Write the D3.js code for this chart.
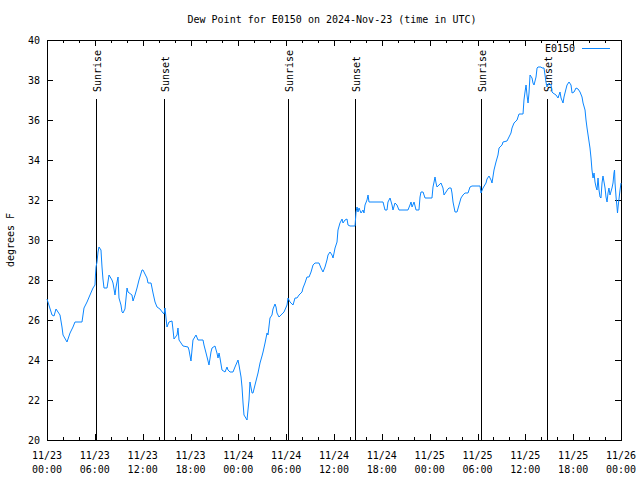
<!DOCTYPE html>
<html><head><meta charset="utf-8">
<script src="https://cdn.jsdelivr.net/npm/d3@7"></script>
<style>body{margin:0;background:#fff}svg{display:block}text{font-family:"DejaVu Sans Mono",monospace;font-size:10px;fill:#000}</style>
</head><body><div id="chart"></div>
<script>
const title = "Dew Point for E0150 on 2024-Nov-23 (time in UTC)";
const seriesName = "E0150";
const yLabel = "degrees F";
// hours since 2024-11-23 00:00 UTC
const hours = [0,0.63,0.88,1.13,1.63,1.88,2.01,2.51,2.89,3.26,3.51,4.39,4.64,5.02,5.39,5.77,6.02,6.08,6.15,6.27,6.40,6.52,6.77,6.90,7.02,7.15,7.53,7.78,8.15,8.28,8.53,8.66,8.91,9.03,9.28,9.41,9.53,9.78,10.04,10.16,10.66,10.79,11.04,11.29,11.54,11.92,12.04,12.29,12.54,12.67,13.05,13.30,13.55,13.80,14.17,14.55,14.68,14.80,14.93,15.05,15.30,15.68,15.81,15.93,16.31,16.43,16.56,16.81,17.06,17.69,17.81,18.06,18.19,18.31,18.69,18.94,19.57,19.69,19.95,20.20,20.32,20.57,20.70,21.07,21.32,21.45,21.58,21.70,21.95,22.33,22.58,22.70,22.96,23.33,23.58,23.96,24.08,24.34,24.46,24.59,24.71,25.09,25.21,25.34,25.46,25.72,25.84,26.09,26.34,26.47,26.72,26.97,27.10,27.35,27.60,27.72,27.97,28.22,28.35,28.60,28.73,28.85,29.10,29.48,29.73,30.11,30.23,30.48,30.86,31.11,31.36,31.61,31.99,32.11,32.36,32.61,32.87,33.12,33.37,33.62,34.12,34.37,34.62,34.87,35.12,35.25,35.50,35.75,35.88,36.13,36.38,36.50,36.75,37.01,37.13,37.38,37.63,37.76,38.01,38.64,38.76,38.89,39.01,39.14,39.39,39.64,39.76,39.89,40.14,40.27,40.39,42.15,42.40,42.65,42.77,43.03,43.28,43.40,43.65,43.90,44.15,45.28,45.53,45.66,45.79,46.04,46.29,46.66,46.79,46.91,47.17,47.42,48.29,48.42,48.55,48.67,48.80,48.92,49.17,49.42,49.67,49.80,50.05,50.30,50.43,50.68,50.80,50.93,51.18,51.43,51.68,51.93,52.18,52.43,52.81,53.06,53.31,54.32,54.44,54.69,55.07,55.19,55.44,55.70,55.82,56.07,56.32,56.57,56.70,57.08,57.20,57.70,57.95,58.20,58.33,58.58,58.96,59.08,59.21,59.71,59.83,59.96,60.09,60.21,60.34,60.46,60.59,60.84,60.96,61.09,61.34,61.47,61.59,61.97,62.09,62.34,62.47,62.59,62.72,62.97,63.22,63.35,63.47,63.85,64.10,64.35,64.48,64.73,64.85,65.10,65.23,65.48,65.73,65.86,66.11,66.36,66.61,66.86,67.11,67.24,67.49,67.61,67.74,67.87,68.11,68.24,68.36,68.49,68.62,68.74,68.87,68.99,69.12,69.24,69.37,69.49,69.62,69.74,69.87,70.00,70.12,70.25,70.37,70.49,70.62,70.87,71.00,71.12,71.19,71.25,71.38,71.50,71.56,71.63,71.88,72.00];
const dewPoint = [27.05,26.25,26.2,26.55,26.25,25.65,25.25,24.9,25.35,25.65,25.9,25.9,26.6,26.9,27.25,27.6,27.75,28.25,28.65,28.9,29.4,29.65,29.5,28.65,28.05,27.6,27.6,28.25,28.0,27.85,27.25,27.65,28.15,27.1,26.75,26.4,26.35,26.55,27.6,27.4,27.25,26.95,27.25,27.6,28.0,28.5,28.5,28.3,28.1,27.85,27.85,27.35,26.9,26.65,26.55,26.35,26.3,26.6,26.1,25.65,25.9,25.95,25.5,25.05,25.25,25.6,25.0,24.85,24.7,24.65,24.5,23.95,24.5,25.0,25.25,25.0,25.0,24.75,24.35,23.95,23.75,24.4,24.6,24.7,24.35,24.1,24.35,24.1,23.5,23.4,23.65,23.5,23.4,23.4,23.65,24.0,23.75,23.15,22.65,21.85,21.25,21.0,21.5,22.0,22.9,22.35,22.35,22.75,23.15,23.35,23.85,24.2,24.4,24.85,25.35,25.25,26.1,26.25,26.55,26.8,26.65,26.35,26.15,26.3,26.4,26.75,27.1,26.9,26.75,27.1,27.1,27.25,27.4,27.6,27.85,28.15,28.15,28.4,28.75,28.85,28.85,28.6,28.4,28.65,29.0,29.25,29.4,29.25,29.1,29.6,29.9,30.5,30.85,31.05,30.85,31.0,31.05,30.75,30.7,30.7,31.4,31.65,31.4,31.6,31.35,31.5,31.35,31.75,32.0,32.25,31.9,31.9,31.5,31.5,31.9,32.1,31.75,31.5,31.85,31.75,31.5,31.5,31.75,31.9,31.65,31.9,31.5,31.5,32.15,32.4,32.4,32.1,32.1,32.65,32.9,33.15,32.85,32.65,32.75,32.85,32.6,32.25,32.4,32.55,32.6,32.6,32.35,31.9,31.4,31.4,31.75,32.1,32.25,32.35,32.35,32.65,32.7,32.7,32.35,32.6,32.85,33.05,33.2,33.0,32.85,33.5,33.9,34.25,34.6,34.75,34.9,34.95,35.15,35.35,35.6,35.85,36.0,36.15,36.3,36.3,37.0,37.4,37.75,37.25,36.85,37.35,38.25,38.1,37.85,37.75,38.15,38.6,38.65,38.65,38.6,38.6,38.25,37.9,37.65,37.85,37.75,37.4,37.35,37.25,37.1,37.4,37.1,36.85,37.15,37.55,37.75,37.9,37.75,37.35,37.4,37.6,37.55,37.4,37.15,36.85,36.5,36.0,35.6,35.25,34.6,34.1,33.5,33.1,33.35,32.9,32.65,32.5,33.1,32.5,32.15,32.1,32.85,33.2,32.9,32.6,32.15,31.9,32.35,32.6,32.25,32.6,32.85,33.35,33.5,32.85,32.15,31.65,31.35,31.65,32.5,32.85];
const sunEvents = ["Sunrise","Sunset","Sunrise","Sunset","Sunrise","Sunset"];
const sunHours = [6.15,14.68,30.23,38.69,54.38,62.78];
const xTickHours = [0,6,12,18,24,30,36,42,48,54,60,66,72];
const xTickDates = ["11/23","11/23","11/23","11/23","11/24","11/24","11/24","11/24","11/25","11/25","11/25","11/25","11/26"];
const xTickTimes = ["00:00","06:00","12:00","18:00","00:00","06:00","12:00","18:00","00:00","06:00","12:00","18:00","00:00"];
const yTicks = [20,22,24,26,28,30,32,34,36,38,40];

const W = 640, H = 480;
const L = 47, R = 621, T = 40, B = 440;
const svg = d3.select("#chart").append("svg").attr("width", W).attr("height", H);
const x = d3.scaleLinear().domain([0, 72]).range([L, R]);
const y = d3.scaleLinear().domain([20, 40]).range([B, T]);

// title
svg.append("text").attr("x", 332).attr("y", 23).attr("text-anchor", "middle").text(title);
// y label
svg.append("text").attr("transform", "translate(14,240) rotate(-90)").attr("text-anchor", "middle").text(yLabel);

const crisp = v => Math.round(v) + 0.5;
const g = svg.append("g").attr("shape-rendering", "crispEdges").attr("stroke", "#000").attr("stroke-width", 1);

// y ticks & labels
yTicks.forEach(v => {
  const yy = crisp(y(v));
  g.append("line").attr("x1", L).attr("x2", L + 6).attr("y1", yy).attr("y2", yy);
  g.append("line").attr("x1", R - 6).attr("x2", R).attr("y1", yy).attr("y2", yy);
  svg.append("text").attr("x", 40).attr("y", y(v) + 4).attr("text-anchor", "end").text(v);
});
// x minor ticks every 2h
d3.range(0, 73, 2).forEach(h => {
  const xx = crisp(x(h));
  const len = (h % 6 === 0) ? 6 : 3;
  g.append("line").attr("x1", xx).attr("x2", xx).attr("y1", B).attr("y2", B - len);
  g.append("line").attr("x1", xx).attr("x2", xx).attr("y1", T).attr("y2", T + len);
});
xTickHours.forEach((h, i) => {
  svg.append("text").attr("x", x(h)).attr("y", 459).attr("text-anchor", "middle").text(xTickDates[i]);
  svg.append("text").attr("x", x(h)).attr("y", 473).attr("text-anchor", "middle").text(xTickTimes[i]);
});

// sun event lines
sunHours.forEach((h, i) => {
  const xx = crisp(x(h));
  g.append("line").attr("x1", xx).attr("x2", xx).attr("y1", 99).attr("y2", B);
  svg.append("text").attr("transform", `translate(${xx + 4},92) rotate(-90)`).attr("text-anchor", "start").text(sunEvents[i]);
});

// data line
const line = d3.line().x((d, i) => x(hours[i])).y(d => y(d));
svg.append("path").datum(dewPoint).attr("d", line).attr("fill", "none").attr("stroke", "#0a86ff").attr("stroke-width", 1);

// legend
svg.append("text").attr("x", 575).attr("y", 52).attr("text-anchor", "end").text(seriesName);
svg.append("line").attr("x1", 582).attr("x2", 610).attr("y1", 48.5).attr("y2", 48.5).attr("stroke", "#0a86ff").attr("shape-rendering", "crispEdges");

// border
g.append("rect").attr("x", L + 0.5).attr("y", T + 0.5).attr("width", R - L).attr("height", B - T).attr("fill", "none");
</script></body></html>
